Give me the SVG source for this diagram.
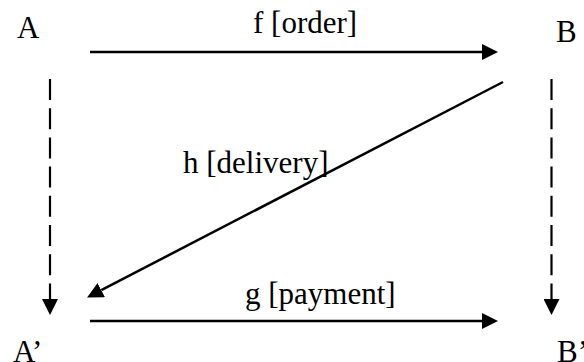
<svg xmlns="http://www.w3.org/2000/svg" width="584" height="362" viewBox="0 0 584 362">
<style>
  .lbl { font-family: "Liberation Serif", "Times New Roman", serif; font-size: 31px; fill: #000; }
  .solid { stroke: #000; stroke-width: 2.5; fill: none; }
  .dash { stroke: #000; stroke-width: 2.2; fill: none; stroke-dasharray: 21 8.2; }
</style>
<defs>
  <marker id="ah" markerUnits="userSpaceOnUse" markerWidth="16" markerHeight="16" refX="0" refY="7.5" orient="auto" viewBox="0 0 15 15">
    <path d="M0,0 L15,7.5 L0,15 Z" fill="#000"/>
  </marker>
</defs>
<rect width="584" height="362" fill="#fff"/>
<g id="connectors">
  <line id="f" class="solid" x1="90" y1="52" x2="482" y2="52" marker-end="url(#ah)"/>
  <line id="g" class="solid" x1="90" y1="321" x2="482" y2="321" marker-end="url(#ah)"/>
  <line id="h" class="solid" x1="503" y1="82" x2="101.3" y2="290.1" marker-end="url(#ah)"/>
  <line id="a-a2" class="dash" x1="50" y1="79" x2="50" y2="299" marker-end="url(#ah)"/>
  <line id="b-b2" class="dash" x1="551.5" y1="79" x2="551.5" y2="299" marker-end="url(#ah)"/>
</g>
<g id="labels">
  <text class="lbl" x="253" y="33">f [order]</text>
  <text class="lbl" x="183" y="173">h [delivery]</text>
  <text class="lbl" x="245" y="304">g [payment]</text>
</g>
<g id="nodeA"><text class="lbl" x="17" y="38">A</text></g>
<g id="nodeB"><text class="lbl" x="556" y="42">B</text></g>
<g id="nodeA2"><text class="lbl" x="13" y="362">A’</text></g>
<g id="nodeB2"><text class="lbl" x="557" y="362">B’</text></g>
</svg>
